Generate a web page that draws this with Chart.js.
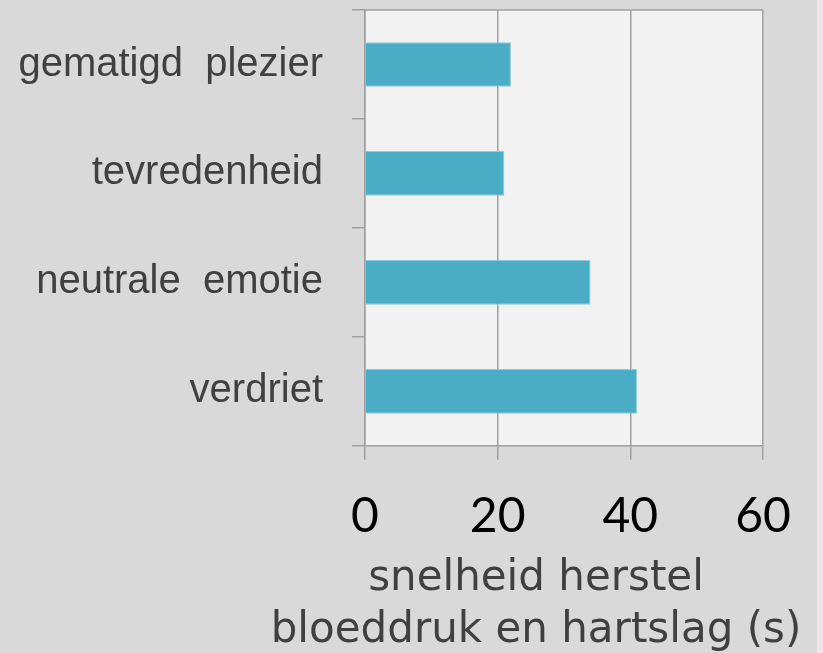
<!DOCTYPE html>
<html>
<head>
<meta charset="utf-8">
<script src="https://cdn.jsdelivr.net/npm/chart.js@4/dist/chart.umd.min.js"></script>
<style>
  html, body { margin: 0; padding: 0; background: #f1e3e7; }
  #wrap { position: relative; width: 817px; height: 653px; background: #d9d9d9; }
</style>
</head>
<body>
<div id="wrap"><canvas id="c" width="817" height="653"></canvas></div>
<script>
const categories = ["gematigd  plezier", "tevredenheid", "neutrale  emotie", "verdriet"];
const values = [22, 21, 34, 41];
const xTicks = [0, 20, 40, 60];
const axisTitle = ["snelheid herstel", "bloeddruk en hartslag (s)"];

const areaPlugin = {
  id: 'areaBg',
  afterLayout(chart) {
    // the axis title sits a little left of the plot centre and is wider than the plot
    const t = chart.titleBlock;
    if (t) { t.left = 255; t.right = 817; t.width = t.right - t.left; }
  },
  beforeDraw(chart) {
    const {ctx, chartArea: a} = chart;
    ctx.save();
    ctx.fillStyle = '#f2f2f2';
    ctx.fillRect(a.left, a.top, a.right - a.left, a.bottom - a.top);
    ctx.strokeStyle = '#a0a0a0';
    ctx.lineWidth = 1.5;
    ctx.beginPath();
    ctx.moveTo(a.left, a.top);
    ctx.lineTo(a.right, a.top);
    ctx.stroke();
    ctx.restore();
  }
};

new Chart(document.getElementById('c'), {
  type: 'bar',
  data: {
    labels: categories,
    datasets: [{
      data: values,
      backgroundColor: '#4bacc6',
      borderColor: '#8fcadb',
      borderWidth: 1,
      barPercentage: 0.41,
      categoryPercentage: 1
    }]
  },
  plugins: [areaPlugin],
  options: {
    indexAxis: 'y',
    responsive: false,
    animation: false,
    layout: { padding: { left: 0, right: 54, top: 10, bottom: 0 } },
    plugins: {
      legend: { display: false },
      tooltip: { enabled: false },
      title: {
        display: true,
        position: 'bottom',
        text: axisTitle,
        color: '#404040',
        font: { family: '"DejaVu Sans", Verdana, sans-serif', size: 42, weight: 'normal', lineHeight: 1.24 },
        padding: { top: 0, bottom: -4 }
      }
    },
    scales: {
      x: {
        min: 0, max: 60,
        afterBuildTicks(scale) { scale.ticks = xTicks.map(v => ({ value: v })); },
        afterFit(scale) { scale.height = 107; scale.paddingLeft = 0; scale.paddingRight = 0; },
        grid: { color: '#a0a0a0', lineWidth: 1.5, tickLength: 14, drawOnChartArea: true },
        border: { color: '#a0a0a0', width: 1.5 },
        ticks: {
          color: '#000000',
          padding: 28,
          font: { family: 'Lato, "Open Sans", sans-serif', size: 48, lineHeight: 1.2 }
        }
      },
      y: {
        afterFit(scale) { scale.width = 365; scale.paddingTop = 0; scale.paddingBottom = 0; },
        grid: { offset: true, drawOnChartArea: false, color: '#a0a0a0', lineWidth: 1.5, tickLength: 13 },
        border: { color: '#a0a0a0', width: 1.5 },
        ticks: {
          color: '#404040',
          padding: 29,
          font: { family: '"Liberation Sans", Arial, sans-serif', size: 40 }
        }
      }
    }
  }
});
</script>
</body>
</html>
